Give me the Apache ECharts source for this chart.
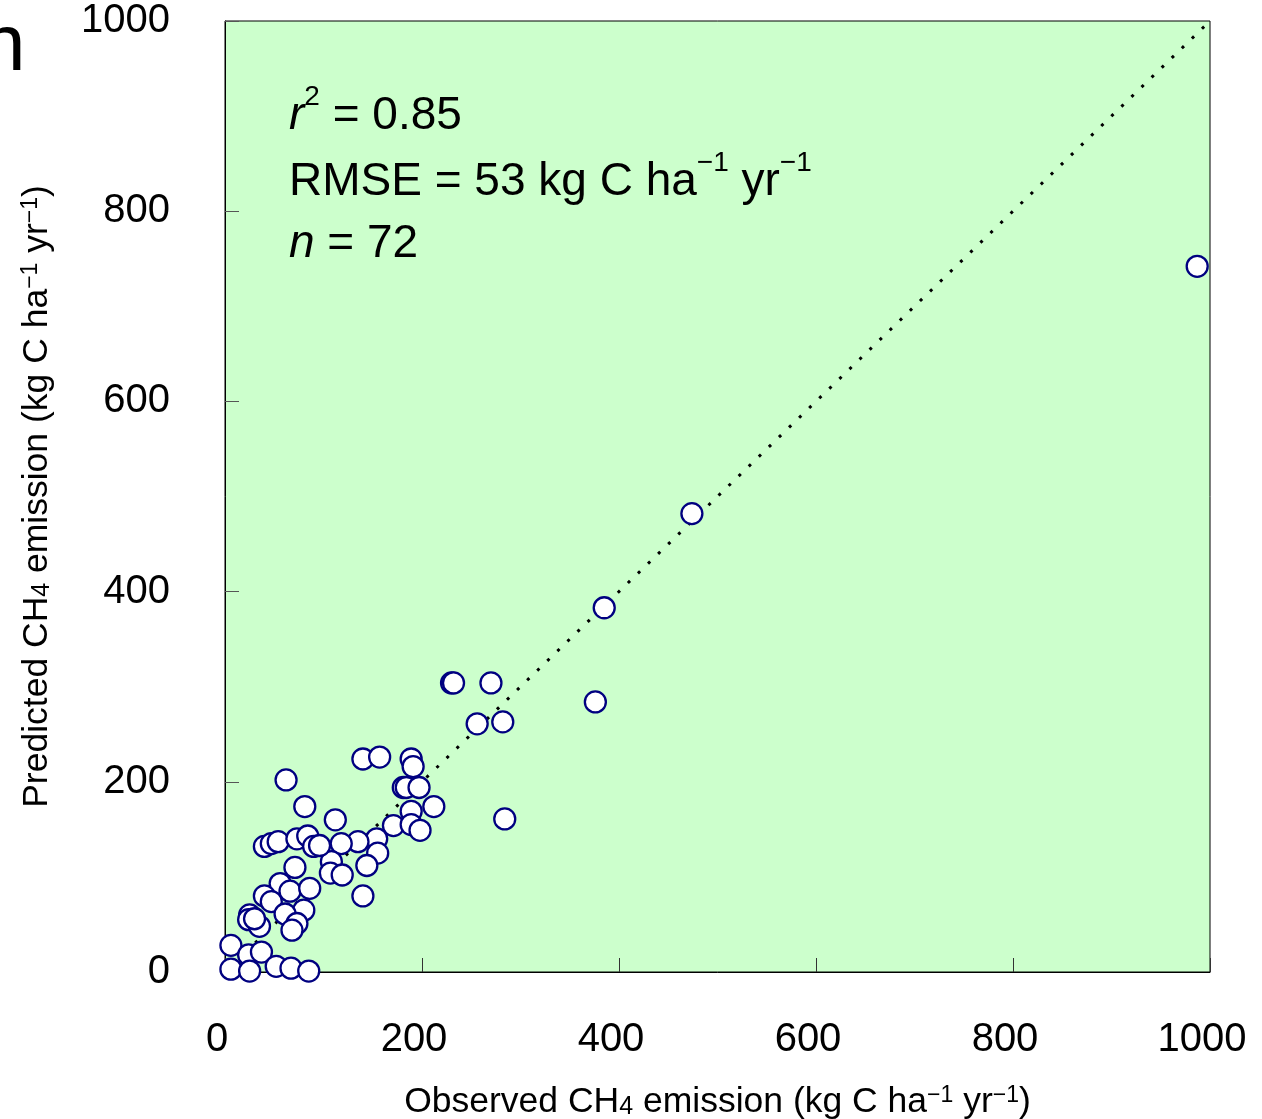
<!DOCTYPE html>
<html>
<head>
<meta charset="utf-8">
<script src="https://cdn.jsdelivr.net/npm/echarts@6/dist/echarts.min.js"></script>
<style>
html,body{margin:0;padding:0;background:#fff;}
#chart{width:1262px;height:1119px;}
</style>
</head>
<body>
<div id="chart"></div>
<script>
// Observed vs predicted CH4 emission (kg C ha-1 yr-1)
var observed = [987,474,385,376,230,232,270,256,282,140,157,189,191,181,184,197,62,212,189,81,284,112,171,189,198,154,155,135,118,144,108,107,119,140,40,47,54,73,84,90,96,71,56,66,86,40,47,80,61,73,68,25,24,35,6,24,37,6,25,52,67,85,30];
var predicted = [742,482,383,284,304,304,304,261,263,224,226,224,216,194,194,194,202,174,169,174,161,160,154,155,149,140,125,137,135,112,116,104,102,80,132,135,137,140,143,132,133,110,93,85,88,80,74,65,61,51,44,60,55,48,28,18,21,3,1,6,4,1,56];
var axisTicks = [0,200,400,600,800,1000];
var oneToOne = [0,1000];

var points = observed.map(function(v,i){return [v, predicted[i]];});
var linePts = oneToOne.map(function(v){return [v, v];});

var chart = echarts.init(document.getElementById('chart'), null, {renderer:'canvas'});
var lblFont = 'Liberation Sans';
var noteRich = {
  i:{fontFamily:lblFont,fontSize:46,fontStyle:'italic',fontWeight:'normal',color:'#000',lineHeight:66},
  t:{fontFamily:lblFont,fontSize:46,fontWeight:'normal',color:'#000',lineHeight:66},
  sup:{fontFamily:lblFont,fontSize:28,fontWeight:'normal',color:'#000',verticalAlign:'top',lineHeight:26}
};
var nameRich = {
  sub:{fontFamily:lblFont,fontSize:25,color:'#000',verticalAlign:'bottom',lineHeight:34},
  sup:{fontFamily:lblFont,fontSize:23,color:'#000',verticalAlign:'top',lineHeight:22}
};
function fmt(v){ return String(v); }
var option = {
  animation:false,
  backgroundColor:'#ffffff',
  title:[
    {text:'{i|r}{sup|2}{t| = 0.85}', left:284, top:78, textStyle:{fontWeight:'normal',rich:noteRich}},
    {text:'{t|RMSE = 53 kg C ha}{sup|−1}{t| yr}{sup|−1}', left:284, top:144, textStyle:{fontWeight:'normal',rich:noteRich}},
    {text:'{i|n}{t| = 72}', left:284, top:206, textStyle:{fontWeight:'normal',rich:noteRich}}
  ],
  graphic:[
    {type:'text', left:-19, top:8, style:{text:'h', font:'80px "Liberation Sans"', fill:'#000'}}
  ],
  grid:{left:225, top:21, right:52, bottom:147, show:true, outerBoundsMode:'none', containLabel:false,
        backgroundColor:'#ccffcc', borderColor:'#000', borderWidth:1},
  xAxis:{
    type:'value', min:0, max:1000, interval:200,
    name:'Observed CH{sub|4} emission (kg C ha{sup|−1} yr{sup|−1})',
    nameLocation:'middle', nameGap:112,
    nameTextStyle:{fontFamily:lblFont,fontSize:35.5,color:'#000',rich:nameRich},
    axisLine:{show:true,onZero:false,lineStyle:{color:'#000',width:1}},
    axisTick:{show:true,inside:true,length:14,lineStyle:{color:'#333',width:1}},
    axisLabel:{fontFamily:lblFont,fontSize:40,color:'#000',margin:48,formatter:fmt,padding:[0,16,0,0]},
    splitLine:{show:false}
  },
  yAxis:{
    type:'value', min:0, max:1000, interval:200,
    name:'Predicted CH{sub|4} emission (kg C ha{sup|−1} yr{sup|−1})',
    nameLocation:'middle', nameGap:170,
    nameTextStyle:{fontFamily:lblFont,fontSize:35.5,color:'#000',rich:nameRich},
    axisLine:{show:true,onZero:false,lineStyle:{color:'#000',width:1}},
    axisTick:{show:true,inside:true,length:14,lineStyle:{color:'#555',width:1}},
    axisLabel:{fontFamily:lblFont,fontSize:40,color:'#000',margin:55,formatter:fmt,padding:[6,0,0,0]},
    splitLine:{show:false}
  },
  series:[
    {type:'line', data:linePts, symbol:'none', z:2, silent:true,
     lineStyle:{color:'#000',width:3,type:[3,11]}},
    {type:'scatter', data:points, symbol:'circle', symbolSize:21, z:3,
     itemStyle:{color:'#ffffff',borderColor:'#000080',borderWidth:2.3,opacity:1}}
  ]
};
chart.setOption(option);
</script>
</body>
</html>
